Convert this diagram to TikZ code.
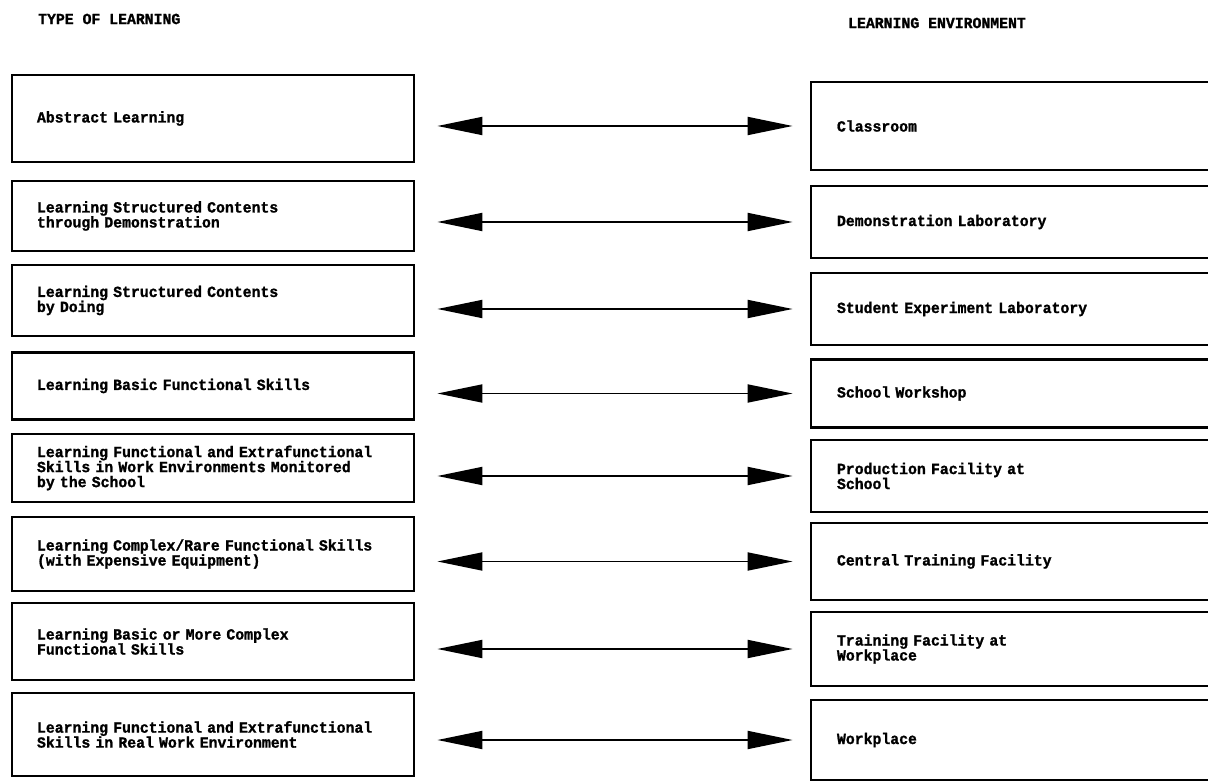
\documentclass[tikz,border=0pt]{standalone}
\usepackage{fontspec}
\newfontfamily\boxfont{Liberation Mono}[FakeStretch=0.955, BoldFeatures={FakeBold=1.2}]
\newcommand\boxsize{\fontsize{15.5}{15}\selectfont}
\usetikzlibrary{arrows.meta}
\tikzset{
  learnbox/.style={draw, line width=2.8pt, minimum width=402pt, text width=352pt,
    inner xsep=25pt, align=left, font=\boxfont\bfseries\boxsize},
  envbox/.style={draw, line width=2.8pt, minimum width=429pt, text width=377pt,
    inner xsep=26pt, align=left, font=\boxfont\bfseries\boxsize},
  headtext/.style={anchor=west, inner sep=0pt, font=\boxfont\bfseries\boxsize},
  link/.style={line width=1.8pt, {Triangle[length=45pt,width=18pt]}-{Triangle[length=45pt,width=18pt]},
    shorten <=22pt, shorten >=17pt}
}
\begin{document}
\begin{tikzpicture}[x=1pt,y=-1pt]
      \clip (0,0) rectangle (1208,783);
      \fill[white] (0,0) rectangle (1208,783);
      \node[headtext] (lhead) at (38,19) {TYPE OF LEARNING};
      \node[headtext] (rhead) at (848,23) {LEARNING ENVIRONMENT};
      % type of learning
      \node[learnbox, minimum height=87pt] (l1) at (213,118.5) {Abstract Learning};
      \node[learnbox, minimum height=70pt] (l2) at (213,216) {Learning Structured Contents\\through Demonstration};
      \node[learnbox, minimum height=71pt] (l3) at (213,300.5) {Learning Structured Contents\\by Doing};
      \node[learnbox, minimum height=67pt] (l4) at (213,386) {Learning Basic Functional Skills};
      \node[learnbox, minimum height=68pt, inner ysep=2pt] (l5) at (213,468) {Learning Functional and Extrafunctional\\Skills in Work Environments Monitored\\by the School};
      \node[learnbox, minimum height=74pt] (l6) at (213,554) {Learning Complex/Rare Functional Skills\\(with Expensive Equipment)};
      \node[learnbox, minimum height=77pt] (l7) at (213,641.5) {Learning Basic or More Complex\\Functional Skills};
      \node[learnbox, minimum height=83pt] (l8) at (213,734.5) {Learning Functional and Extrafunctional\\Skills in Real Work Environment};
      % learning environment
      \node[envbox, minimum height=88pt] (r1) at (1025.5,126) {Classroom};
      \node[envbox, minimum height=72pt] (r2) at (1025.5,222) {Demonstration Laboratory};
      \node[envbox, minimum height=72pt] (r3) at (1025.5,309) {Student Experiment Laboratory};
      \node[envbox, minimum height=68pt] (r4) at (1025.5,393.5) {School Workshop};
      \node[envbox, minimum height=72pt] (r5) at (1025.5,476) {Production Facility at\\School};
      \node[envbox, minimum height=77pt] (r6) at (1025.5,561.5) {Central Training Facility};
      \node[envbox, minimum height=74pt] (r7) at (1025.5,649) {Training Facility at\\Workplace};
      \node[envbox, minimum height=80pt] (r8) at (1025.5,740) {Workplace};
      \begin{scope}
        \draw[link] (l1.east |- r1.west) to (r1.west);
        \draw[link] (l2.east |- r2.west) to (r2.west);
        \draw[link] (l3.east |- r3.west) to (r3.west);
        \draw[link] (l4.east |- r4.west) to (r4.west);
        \draw[link] (l5.east |- r5.west) to (r5.west);
        \draw[link] (l6.east |- r6.west) to (r6.west);
        \draw[link] (l7.east |- r7.west) to (r7.west);
        \draw[link] (l8.east |- r8.west) to (r8.west);
      \end{scope}
    \end{tikzpicture}
\end{document}
